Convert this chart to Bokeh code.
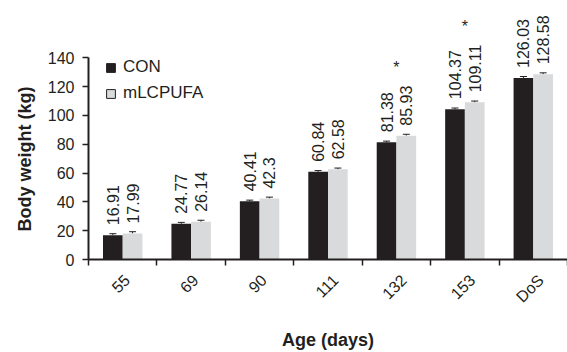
import math
import numpy as np
from bokeh.plotting import figure
from bokeh.models import (Range1d, FixedTicker, ColumnDataSource, Whisker, TeeHead,
                          Title, Legend, LegendItem)
from bokeh.embed import file_html
from bokeh.resources import INLINE
from bokeh.core.properties import value

# ---- data ----
ages = ["55", "69", "90", "111", "132", "153", "DoS"]
con = [16.91, 24.77, 40.41, 60.84, 81.38, 104.37, 126.03]
mlc = [17.99, 26.14, 42.3, 62.58, 85.93, 109.11, 128.58]
con_sem = [1.0, 1.0, 0.8, 0.9, 0.8, 0.8, 1.0]
mlc_sem = [1.3, 1.1, 1.0, 0.9, 1.0, 0.9, 1.0]
sig = ["", "", "", "", "*", "*", ""]
y_ticks = [0, 20, 40, 60, 80, 100, 120, 140]

FONT = "Liberation Sans"
DARK = "#231f20"
LIGHT = "#d9dadb"

n = len(ages)
xc = [i + 0.5 for i in range(n)]
bw = 0.288
PX_PER_UNIT = 479 / 7  # frame width / x span

src = ColumnDataSource(dict(
    x_con=[x - bw / 2 for x in xc],
    x_mlc=[x + bw / 2 for x in xc],
    xc=xc,
    con=con, mlc=mlc,
    con_top=[v + e for v, e in zip(con, con_sem)],
    mlc_top=[v + e for v, e in zip(mlc, mlc_sem)],
    con_lbl=[str(v) for v in con],
    mlc_lbl=[str(v) for v in mlc],
))

p = figure(width=567, height=352, output_backend="svg", toolbar_location=None,
           x_range=Range1d(0, 7), y_range=Range1d(0, 179.8),
           min_border_left=88, min_border_right=0, min_border_top=0, min_border_bottom=93)
p.outline_line_color = None
p.grid.visible = False
p.background_fill_color = "white"

p.vbar(x="x_con", top="con", width=bw, fill_color=DARK, line_color=None, source=src)
p.vbar(x="x_mlc", top="mlc", width=bw, fill_color=LIGHT, line_color=None, source=src)

for base, top, low in [("x_con", "con_top", "con"), ("x_mlc", "mlc_top", "mlc")]:
    p.add_layout(Whisker(base=base, upper=top, lower=low, source=src,
                         upper_head=TeeHead(size=7, line_color=DARK, line_width=1),
                         lower_head=None, line_color=DARK, line_width=1))

for xcol, ycol, tcol in [("x_con", "con", "con_lbl"), ("x_mlc", "mlc", "mlc_lbl")]:
    p.text(x=xcol, y=ycol, text=tcol, source=src, angle=math.pi / 2,
           text_align="left", text_baseline="middle", y_offset=-10,
           text_font=value(FONT), text_font_size="16px", text_color=DARK)

star_src = ColumnDataSource(dict(
    x=[x for x, s in zip(xc, sig) if s],
    y=[v for v, s in zip(mlc, sig) if s],
    t=[s for s in sig if s],
    off=[-(10 + 8 * len(str(v)) + 18) for v, s in zip(mlc, sig) if s],
))
p.text(x="x", y="y", text="t", y_offset="off", source=star_src,
       text_align="center", text_baseline="middle",
       text_font=value(FONT), text_font_size="16px", text_color=DARK)

# legend (proxy squares with outline; NaN position so they are not drawn in the plot)
r1 = p.rect(x=np.array([np.nan]), y=np.array([np.nan]), width=1, height=1,
            fill_color=DARK, line_color=DARK)
r2 = p.rect(x=np.array([np.nan]), y=np.array([np.nan]), width=1, height=1,
            fill_color=LIGHT, line_color=DARK)
legend = Legend(items=[LegendItem(label="CON", renderers=[r1]),
                       LegendItem(label="mLCPUFA", renderers=[r2])],
                location=(17, 154.5), glyph_width=11, glyph_height=11, label_standoff=7,
                label_text_font=FONT, label_text_font_size="17px", label_text_color=DARK,
                label_height=23, spacing=3, padding=0, margin=0,
                border_line_color=None, background_fill_alpha=0)
p.add_layout(legend)

# x axis: category boundaries as (minor) tick marks, names centred under each group
# (labels are right-anchored when rotated, so nudge the anchor by about half the label's run)
lab_ticks = [round(x + (3.2 * len(a) - 2) / PX_PER_UNIT, 4) for x, a in zip(xc, ages)]
p.xaxis.ticker = FixedTicker(ticks=lab_ticks, minor_ticks=list(range(n + 1)))
p.xaxis.major_label_overrides = {t: a for t, a in zip(lab_ticks, ages)}
p.xaxis.major_tick_line_color = None
p.xaxis.minor_tick_line_color = DARK
p.xaxis.minor_tick_out = 6
p.xaxis.minor_tick_in = 0
p.xaxis.minor_tick_line_width = 1.5
p.xaxis.axis_line_width = 2
p.xaxis.axis_line_color = DARK
p.xaxis.major_label_orientation = math.pi / 4
p.xaxis.major_label_text_font = FONT
p.xaxis.major_label_text_font_size = "16px"
p.xaxis.major_label_text_color = DARK
p.xaxis.major_label_standoff = 12
p.xaxis.axis_label = "Age (days)"
p.xaxis.axis_label_text_font = FONT
p.xaxis.axis_label_text_font_style = "bold"
p.xaxis.axis_label_text_font_size = "18px"
p.xaxis.axis_label_text_color = DARK
p.xaxis.axis_label_standoff = 15

# y axis
p.yaxis.ticker = FixedTicker(ticks=y_ticks)
p.yaxis.bounds = (0, 140)
p.yaxis.minor_tick_line_color = None
p.yaxis.major_tick_out = 6
p.yaxis.major_tick_in = 0
p.yaxis.major_tick_line_width = 1.5
p.yaxis.major_tick_line_color = DARK
p.yaxis.axis_line_width = 2
p.yaxis.axis_line_color = DARK
p.yaxis.major_label_standoff = 8
p.yaxis.major_label_text_font = FONT
p.yaxis.major_label_text_font_size = "16px"
p.yaxis.major_label_text_color = DARK

p.add_layout(Title(text="Body weight (kg)", align="left", offset=28, standoff=20,
                   text_font=FONT, text_font_style="bold", text_font_size="18px",
                   text_color=DARK), "left")

open("out.html", "w").write(file_html(p, INLINE))
